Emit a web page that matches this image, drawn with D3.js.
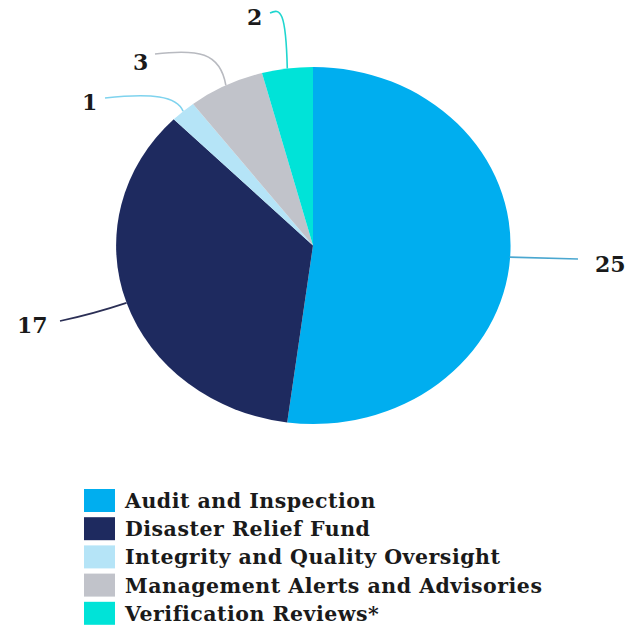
<!DOCTYPE html>
<html><head><meta charset="utf-8">
<script src="https://cdn.jsdelivr.net/npm/d3@7"></script>
<style>body{margin:0;background:#fff}svg{display:block}</style>
</head><body>
<script>
const categories = ["Audit and Inspection","Disaster Relief Fund","Integrity and Quality Oversight","Management Alerts and Advisories","Verification Reviews*"];
const values = [25, 17, 1, 3, 2];
const colors = ["#00aeef","#1e2a5f","#b5e4f7","#c1c3ca","#00e3d8"];

const W = 639, H = 627;
const svg = d3.select("body").append("svg").attr("width", W).attr("height", H);
const cx = 313, cy = 245.5, rx = 197, ry = 178.5;

const pie = d3.pie().sort(null).value(d => d)(values);
const arc = d3.arc().innerRadius(0).outerRadius(1);

const g = svg.append("g").attr("transform", `translate(${cx},${cy}) scale(${rx},${ry})`);
g.selectAll("path").data(pie).join("path")
  .attr("d", arc).attr("fill", (d,i) => colors[i]);

// leader label layout: label position and line start (layout only)
const labelLayout = [
  {tx:595, ty:272, anchor:"start", sx:578, sy:259, bend:"straight"},
  {tx:17,  ty:333, anchor:"start", sx:60,  sy:321, bend:"straight"},
  {tx:82,  ty:110, anchor:"start", sx:105, sy:98,  bend:"curve"},
  {tx:133, ty:70,  anchor:"start", sx:155, sy:54,  bend:"curve"},
  {tx:247, ty:25,  anchor:"start", sx:270, sy:13,  bend:"curve"}
];
const lineColors = ["#4aa7d0","#2b2f55","#7fd3ee","#b8bac0","#1fd6cf"];

pie.forEach((d,i) => {
  const a = (d.startAngle + d.endAngle)/2;
  const ax = cx + rx*Math.sin(a), ay = cy - ry*Math.cos(a);
  const L = labelLayout[i];
  let p;
  if (L.bend === "straight") {
    const mx = (L.sx+ax)/2, my = (L.sy+ay)/2 + (i===1? 2: 0);
    p = `M${L.sx},${L.sy} Q${mx},${my} ${ax},${ay}`;
  } else {
    const c1x = L.sx + (ax - L.sx)*0.6, c1y = L.sy - 5;
    const c2x = ax - (ax - L.sx)*0.08, c2y = L.sy - 2;
    p = `M${L.sx},${L.sy} C${c1x},${c1y} ${c2x},${c2y} ${ax},${ay}`;
  }
  svg.append("path").attr("d", p).attr("fill","none")
    .attr("stroke", lineColors[i]).attr("stroke-width", 1.6);
  svg.append("text").attr("x", L.tx).attr("y", L.ty).attr("text-anchor", L.anchor)
    .attr("font-family","'DejaVu Serif', serif").attr("font-weight","bold")
    .attr("font-size", 22).attr("fill","#1a1a1a").text(values[i]);
});

// legend
const leg = svg.append("g");
categories.forEach((c,i) => {
  const y0 = 489 + i*28.2;
  leg.append("rect").attr("x",84).attr("y",y0).attr("width",31).attr("height",23).attr("fill",colors[i]);
  leg.append("text").attr("x",125).attr("y",y0+19)
    .attr("font-family","'DejaVu Serif', serif").attr("font-weight","bold")
    .attr("font-size", 20.5).attr("letter-spacing", 0.5).attr("fill","#1a1a1a").text(c);
});
</script>
</body></html>
